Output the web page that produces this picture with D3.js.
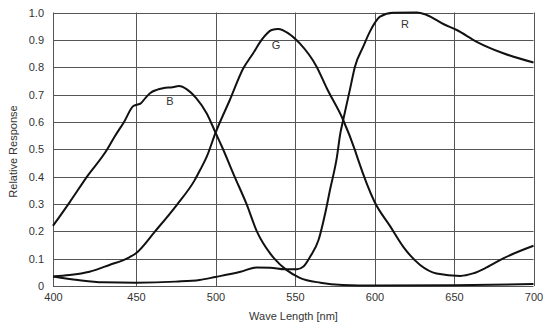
<!DOCTYPE html>
<html>
<head>
<meta charset="utf-8">
<script src="https://cdn.jsdelivr.net/npm/d3@7"></script>
<style>
  html, body { margin: 0; padding: 0; background: #fff; }
  svg { display: block; }
  text { font-family: "Liberation Sans", Arial, sans-serif; fill: #333; }
</style>
</head>
<body>
<svg id="chart" width="554" height="329"></svg>
<script>
// ---- Data ----
const xTicks = [400, 450, 500, 550, 600, 650, 700];
const yTicks = [0, 0.1, 0.2, 0.3, 0.4, 0.5, 0.6, 0.7, 0.8, 0.9, 1.0];
const yTickLabels = ["0", "0.1", "0.2", "0.3", "0.4", "0.5", "0.6", "0.7", "0.8", "0.9", "1.0"];

const bWave = [400, 410, 420.5, 432.7, 437, 442.8, 448.4, 450, 453, 456, 459, 463, 467, 473, 477, 482, 488, 494.5, 500, 504, 512, 519.5, 526, 530, 534, 537, 544.8, 553, 566, 580, 600, 650, 700];
const bResp = [0.22, 0.306, 0.4, 0.5, 0.545, 0.6, 0.658, 0.662, 0.668, 0.688, 0.706, 0.717, 0.723, 0.727, 0.731, 0.719, 0.686, 0.631, 0.561, 0.51, 0.40, 0.30, 0.20, 0.156, 0.122, 0.1, 0.058, 0.03, 0.012, 0.004, 0.002, 0.003, 0.007];

const gWave = [400, 410, 422, 434, 446, 450, 462, 475.6, 487, 490.3, 494.5, 500, 509, 517.5, 523.7, 529, 535.3, 539.5, 545.8, 553, 563.6, 570, 580.3, 587.7, 589.8, 600, 610, 618, 628.7, 639, 654, 662, 670.6, 681, 700];
const gResp = [0.035, 0.04, 0.052, 0.077, 0.105, 0.12, 0.2, 0.296, 0.388, 0.424, 0.473, 0.56, 0.68, 0.796, 0.851, 0.9, 0.936, 0.94, 0.924, 0.887, 0.802, 0.723, 0.607, 0.497, 0.46, 0.308, 0.217, 0.144, 0.077, 0.046, 0.037, 0.046, 0.068, 0.101, 0.147];

const rWave = [400, 415, 430, 450, 475, 490, 500, 515.7, 526, 534.4, 543.8, 551.2, 555.3, 559.5, 564.8, 569, 572, 576.4, 578.5, 580.3, 584.5, 587.7, 592.9, 597.1, 600.3, 603.5, 611.8, 626.6, 632.8, 643.3, 651.7, 664.3, 681, 700];
const rResp = [0.035, 0.022, 0.0135, 0.012, 0.016, 0.022, 0.033, 0.052, 0.068, 0.067, 0.061, 0.061, 0.071, 0.107, 0.168, 0.266, 0.351, 0.473, 0.558, 0.607, 0.717, 0.802, 0.875, 0.93, 0.963, 0.985, 0.999, 1.0, 0.991, 0.958, 0.936, 0.893, 0.851, 0.817];

const seriesLabels = [
  { name: "B", wave: 471.4, resp: 0.673 },
  { name: "G", wave: 538, resp: 0.877 },
  { name: "R", wave: 619.2, resp: 0.954 }
];

// ---- Layout ----
const svg = d3.select("#chart");
const x = d3.scaleLinear().domain([400, 450, 700]).range([53, 136, 533.5]);
const y = d3.scaleLinear().domain([0, 1]).range([286, 12.5]);

// grid
const grid = svg.append("g");
grid.selectAll("line.h").data(yTicks).join("line")
  .attr("x1", x(400)).attr("x2", x(700))
  .attr("y1", d => Math.round(y(d)) + 0.5).attr("y2", d => Math.round(y(d)) + 0.5)
  .attr("stroke", "#555").attr("stroke-width", 1);
grid.selectAll("line.v").data(xTicks).join("line")
  .attr("y1", y(0)).attr("y2", y(1))
  .attr("x1", d => Math.round(x(d)) + 0.5).attr("x2", d => Math.round(x(d)) + 0.5)
  .attr("stroke", "#555").attr("stroke-width", 1);

// axes (labels only)
const xAxis = d3.axisBottom(x).tickValues(xTicks).tickSize(0).tickPadding(7).tickFormat(d3.format("d"));
const gx = svg.append("g").attr("transform", `translate(0,${y(0)})`).call(xAxis);
gx.select(".domain").remove();
gx.selectAll("text").attr("font-size", 11).style("fill", "#333")
  .attr("font-family", "Liberation Sans, Arial, sans-serif");

const yAxis = d3.axisLeft(y).tickValues(yTicks).tickSize(0).tickPadding(9)
  .tickFormat((d, i) => yTickLabels[i]);
const gy = svg.append("g").attr("transform", `translate(${x(400)},0)`).call(yAxis);
gy.select(".domain").remove();
gy.selectAll("text").attr("font-size", 11).style("fill", "#333")
  .attr("font-family", "Liberation Sans, Arial, sans-serif");

// titles
svg.append("text").attr("x", 293.5).attr("y", 320).attr("text-anchor", "middle")
  .attr("font-size", 11).text("Wave Length [nm]");
svg.append("text").attr("transform", "translate(17,151.5) rotate(-90)")
  .attr("text-anchor", "middle").attr("font-size", 11).text("Relative Response");

// curves
const line = d3.line().x(d => x(d[0])).y(d => y(d[1])).curve(d3.curveMonotoneX);
const series = [
  d3.zip(bWave, bResp),
  d3.zip(gWave, gResp),
  d3.zip(rWave, rResp)
];
svg.append("g").selectAll("path").data(series).join("path")
  .attr("d", line).attr("fill", "none").attr("stroke", "#111").attr("stroke-width", 2)
  .attr("stroke-linejoin", "round");

// series labels
svg.append("g").selectAll("text").data(seriesLabels).join("text")
  .attr("x", d => x(d.wave)).attr("y", d => y(d.resp))
  .attr("text-anchor", "middle").attr("dominant-baseline", "middle")
  .attr("font-size", 11).text(d => d.name);
</script>
</body>
</html>
